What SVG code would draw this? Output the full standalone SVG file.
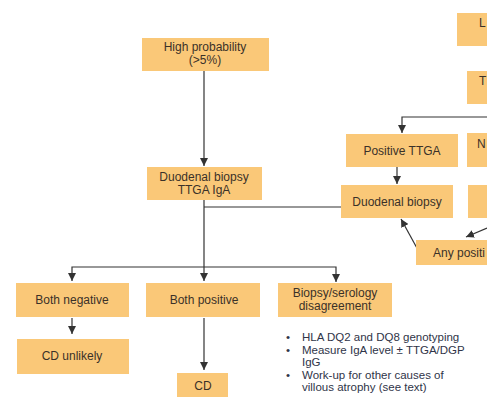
<svg xmlns="http://www.w3.org/2000/svg" width="487" height="397" viewBox="0 0 487 397">
<style>
.box{fill:#FAC878;}
.t{font-family:"Liberation Sans",Arial,sans-serif;font-size:12px;fill:#3a3128;text-anchor:middle;}
.ts{font-family:"Liberation Sans",Arial,sans-serif;font-size:12px;fill:#3a3128;}
.b{font-family:"Liberation Sans",Arial,sans-serif;font-size:11.5px;fill:#2f3448;}
.c{fill:none;stroke:#333;stroke-width:1.2;}
</style>
<defs>
<marker id="ah" markerUnits="userSpaceOnUse" markerWidth="8" markerHeight="8" refX="8" refY="4" orient="auto">
<path d="M0,0 L8,4 L0,8 z" fill="#333"/>
</marker>
</defs>
<rect width="487" height="397" fill="#fff"/>
<g id="connectors">
<path class="c" d="M204,71 L204,166" marker-end="url(#ah)"/>
<path class="c" d="M204,200 L204,281" marker-end="url(#ah)"/>
<path class="c" d="M204,267 L72,267 L72,281" marker-end="url(#ah)"/>
<path class="c" d="M204,267 L336,267 L336,282" marker-end="url(#ah)"/>
<path class="c" d="M204,207 L341,207"/>
<path class="c" d="M487,117 L402,117 L402,133" marker-end="url(#ah)"/>
<path class="c" d="M397,167 L397,184" marker-end="url(#ah)"/>
<path class="c" d="M418,250 L401,219" marker-end="url(#ah)"/>
<path class="c" d="M487,228 L466,237" marker-end="url(#ah)"/>
<path class="c" d="M72,318 L72,334" marker-end="url(#ah)"/>
<path class="c" d="M204,318 L204,370" marker-end="url(#ah)"/>
</g>
<g id="high">
<rect class="box" x="142" y="38" width="127" height="33"/>
<text class="t" x="205" y="51">High probability</text>
<text class="t" x="205" y="64">(&gt;5%)</text>
</g>
<g id="duo1">
<rect class="box" x="147" y="167" width="115" height="33"/>
<text class="t" x="204" y="181">Duodenal biopsy</text>
<text class="t" x="204" y="194">TTGA IgA</text>
</g>
<g id="lbox">
<rect class="box" x="457" y="13" width="40" height="33"/>
<text class="ts" x="479" y="27">L</text>
</g>
<g id="tbox">
<rect class="box" x="467" y="71" width="30" height="33"/>
<text class="ts" x="479" y="85">T</text>
</g>
<g id="postt">
<rect class="box" x="346" y="134" width="112" height="33"/>
<text class="t" x="402" y="155">Positive TTGA</text>
</g>
<g id="nbox">
<rect class="box" x="467" y="133" width="30" height="34"/>
<text class="ts" x="477" y="148">N</text>
</g>
<g id="duo2">
<rect class="box" x="341" y="185" width="112" height="33"/>
<text class="t" x="397" y="206">Duodenal biopsy</text>
</g>
<g id="rbox">
<rect class="box" x="468" y="185" width="30" height="33"/>
</g>
<g id="anypos">
<rect class="box" x="416" y="240" width="80" height="25"/>
<text class="ts" x="433" y="257">Any positi</text>
</g>
<g id="bothneg">
<rect class="box" x="16" y="283" width="113" height="34"/>
<text class="t" x="72" y="304">Both negative</text>
</g>
<g id="bothpos">
<rect class="box" x="146" y="283" width="114" height="34"/>
<text class="t" x="204" y="304">Both positive</text>
</g>
<g id="disagree">
<rect class="box" x="278" y="283" width="114" height="34"/>
<text class="t" x="335" y="297">Biopsy/serology</text>
<text class="t" x="335" y="310">disagreement</text>
</g>
<g id="unlikely">
<rect class="box" x="17" y="339" width="112" height="35"/>
<text class="t" x="72" y="360">CD unlikely</text>
</g>
<g id="cd">
<rect class="box" x="177" y="373" width="51" height="30"/>
<text class="t" x="203" y="390">CD</text>
</g>
<g id="bullets">
<text class="b" x="286" y="341">•</text>
<text class="b" x="302" y="341">HLA DQ2 and DQ8 genotyping</text>
<text class="b" x="286" y="353.5">•</text>
<text class="b" x="302" y="353.5">Measure IgA level ± TTGA/DGP</text>
<text class="b" x="302" y="366">IgG</text>
<text class="b" x="286" y="378.5">•</text>
<text class="b" x="302" y="378.5">Work-up for other causes of</text>
<text class="b" x="302" y="391">villous atrophy (see text)</text>
</g>
</svg>
